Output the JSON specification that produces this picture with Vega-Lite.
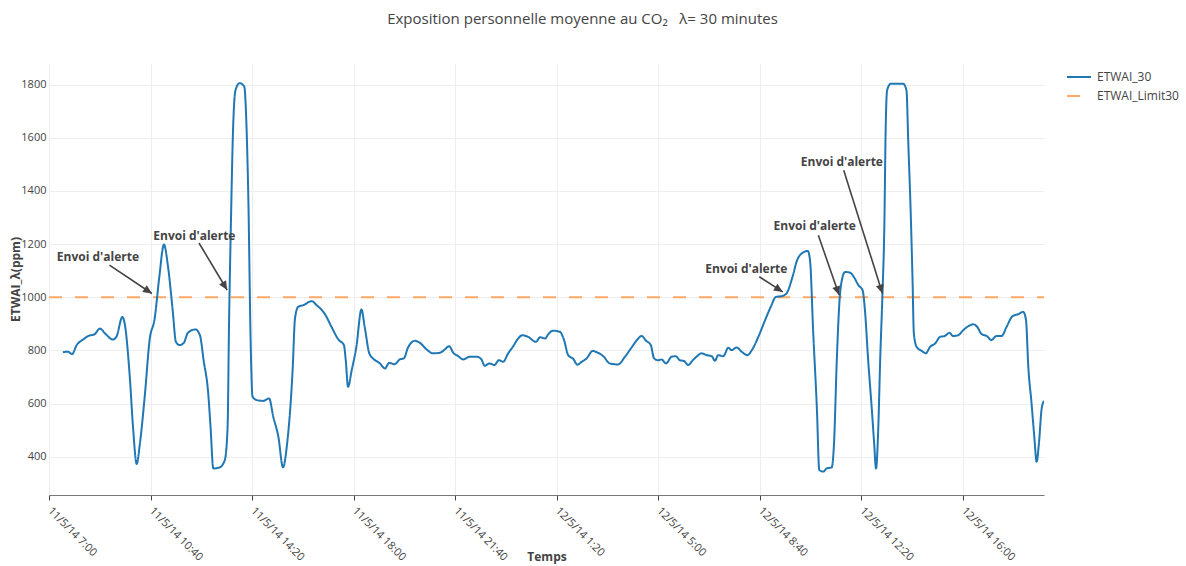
{
  "$schema": "https://vega.github.io/schema/vega-lite/v6.json",
  "autosize": {"type": "none"},
  "width": 995,
  "height": 432,
  "padding": {"left": 49, "top": 63, "right": 142, "bottom": 71},
  "background": "white",
  "title": {
    "text": "Exposition personnelle moyenne au CO₂\u00a0\u00a0\u00a0λ= 30 minutes",
    "font": "Open Sans",
    "fontSize": 15,
    "fontWeight": "normal",
    "color": "#444",
    "anchor": "middle",
    "dx": 36,
    "baseline": "alphabetic",
    "offset": 24
  },
  "config": {
    "view": {"stroke": null},
    "font": "Open Sans",
    "axis": {"labelFont": "Open Sans", "titleFont": "Open Sans", "gridColor": "#eeeeee", "gridWidth": 1}
  },
  "layer": [
    {
      "data": {
        "values": [
          {"t": "2014-05-11 07:00", "v": 1000, "s": "ETWAI_Limit30"},
          {"t": "2014-05-12 18:56", "v": 1000, "s": "ETWAI_Limit30"},
          {"t": "2014-05-11 07:30", "v": 793, "s": "ETWAI_30"},
          {"t": "2014-05-11 07:41", "v": 795, "s": "ETWAI_30"},
          {"t": "2014-05-11 07:50", "v": 786, "s": "ETWAI_30"},
          {"t": "2014-05-11 08:00", "v": 820, "s": "ETWAI_30"},
          {"t": "2014-05-11 08:14", "v": 841, "s": "ETWAI_30"},
          {"t": "2014-05-11 08:25", "v": 854, "s": "ETWAI_30"},
          {"t": "2014-05-11 08:39", "v": 861, "s": "ETWAI_30"},
          {"t": "2014-05-11 08:50", "v": 882, "s": "ETWAI_30"},
          {"t": "2014-05-11 09:03", "v": 861, "s": "ETWAI_30"},
          {"t": "2014-05-11 09:18", "v": 841, "s": "ETWAI_30"},
          {"t": "2014-05-11 09:26", "v": 851, "s": "ETWAI_30"},
          {"t": "2014-05-11 09:39", "v": 926, "s": "ETWAI_30"},
          {"t": "2014-05-11 09:44", "v": 901, "s": "ETWAI_30"},
          {"t": "2014-05-11 09:55", "v": 701, "s": "ETWAI_30"},
          {"t": "2014-05-11 10:02", "v": 513, "s": "ETWAI_30"},
          {"t": "2014-05-11 10:10", "v": 373, "s": "ETWAI_30"},
          {"t": "2014-05-11 10:17", "v": 450, "s": "ETWAI_30"},
          {"t": "2014-05-11 10:28", "v": 638, "s": "ETWAI_30"},
          {"t": "2014-05-11 10:38", "v": 839, "s": "ETWAI_30"},
          {"t": "2014-05-11 10:49", "v": 920, "s": "ETWAI_30"},
          {"t": "2014-05-11 10:59", "v": 1076, "s": "ETWAI_30"},
          {"t": "2014-05-11 11:09", "v": 1198, "s": "ETWAI_30"},
          {"t": "2014-05-11 11:18", "v": 1114, "s": "ETWAI_30"},
          {"t": "2014-05-11 11:28", "v": 951, "s": "ETWAI_30"},
          {"t": "2014-05-11 11:35", "v": 832, "s": "ETWAI_30"},
          {"t": "2014-05-11 11:43", "v": 820, "s": "ETWAI_30"},
          {"t": "2014-05-11 11:52", "v": 828, "s": "ETWAI_30"},
          {"t": "2014-05-11 12:01", "v": 866, "s": "ETWAI_30"},
          {"t": "2014-05-11 12:17", "v": 879, "s": "ETWAI_30"},
          {"t": "2014-05-11 12:27", "v": 857, "s": "ETWAI_30"},
          {"t": "2014-05-11 12:35", "v": 763, "s": "ETWAI_30"},
          {"t": "2014-05-11 12:45", "v": 638, "s": "ETWAI_30"},
          {"t": "2014-05-11 12:50", "v": 513, "s": "ETWAI_30"},
          {"t": "2014-05-11 12:56", "v": 356, "s": "ETWAI_30"},
          {"t": "2014-05-11 13:10", "v": 360, "s": "ETWAI_30"},
          {"t": "2014-05-11 13:21", "v": 388, "s": "ETWAI_30"},
          {"t": "2014-05-11 13:27", "v": 513, "s": "ETWAI_30"},
          {"t": "2014-05-11 13:30", "v": 889, "s": "ETWAI_30"},
          {"t": "2014-05-11 13:34", "v": 1264, "s": "ETWAI_30"},
          {"t": "2014-05-11 13:39", "v": 1640, "s": "ETWAI_30"},
          {"t": "2014-05-11 13:44", "v": 1778, "s": "ETWAI_30"},
          {"t": "2014-05-11 13:53", "v": 1805, "s": "ETWAI_30"},
          {"t": "2014-05-11 14:03", "v": 1793, "s": "ETWAI_30"},
          {"t": "2014-05-11 14:08", "v": 1640, "s": "ETWAI_30"},
          {"t": "2014-05-11 14:12", "v": 1365, "s": "ETWAI_30"},
          {"t": "2014-05-11 14:17", "v": 826, "s": "ETWAI_30"},
          {"t": "2014-05-11 14:21", "v": 626, "s": "ETWAI_30"},
          {"t": "2014-05-11 14:30", "v": 613, "s": "ETWAI_30"},
          {"t": "2014-05-11 14:44", "v": 610, "s": "ETWAI_30"},
          {"t": "2014-05-11 14:57", "v": 619, "s": "ETWAI_30"},
          {"t": "2014-05-11 15:06", "v": 550, "s": "ETWAI_30"},
          {"t": "2014-05-11 15:17", "v": 475, "s": "ETWAI_30"},
          {"t": "2014-05-11 15:27", "v": 360, "s": "ETWAI_30"},
          {"t": "2014-05-11 15:36", "v": 450, "s": "ETWAI_30"},
          {"t": "2014-05-11 15:48", "v": 730, "s": "ETWAI_30"},
          {"t": "2014-05-11 15:53", "v": 920, "s": "ETWAI_30"},
          {"t": "2014-05-11 16:00", "v": 964, "s": "ETWAI_30"},
          {"t": "2014-05-11 16:11", "v": 970, "s": "ETWAI_30"},
          {"t": "2014-05-11 16:29", "v": 985, "s": "ETWAI_30"},
          {"t": "2014-05-11 16:40", "v": 970, "s": "ETWAI_30"},
          {"t": "2014-05-11 16:58", "v": 936, "s": "ETWAI_30"},
          {"t": "2014-05-11 17:12", "v": 889, "s": "ETWAI_30"},
          {"t": "2014-05-11 17:27", "v": 841, "s": "ETWAI_30"},
          {"t": "2014-05-11 17:39", "v": 820, "s": "ETWAI_30"},
          {"t": "2014-05-11 17:43", "v": 763, "s": "ETWAI_30"},
          {"t": "2014-05-11 17:48", "v": 663, "s": "ETWAI_30"},
          {"t": "2014-05-11 17:56", "v": 726, "s": "ETWAI_30"},
          {"t": "2014-05-11 18:06", "v": 813, "s": "ETWAI_30"},
          {"t": "2014-05-11 18:17", "v": 954, "s": "ETWAI_30"},
          {"t": "2014-05-11 18:24", "v": 889, "s": "ETWAI_30"},
          {"t": "2014-05-11 18:34", "v": 789, "s": "ETWAI_30"},
          {"t": "2014-05-11 18:42", "v": 770, "s": "ETWAI_30"},
          {"t": "2014-05-11 18:57", "v": 751, "s": "ETWAI_30"},
          {"t": "2014-05-11 19:08", "v": 732, "s": "ETWAI_30"},
          {"t": "2014-05-11 19:17", "v": 753, "s": "ETWAI_30"},
          {"t": "2014-05-11 19:29", "v": 748, "s": "ETWAI_30"},
          {"t": "2014-05-11 19:40", "v": 766, "s": "ETWAI_30"},
          {"t": "2014-05-11 19:49", "v": 770, "s": "ETWAI_30"},
          {"t": "2014-05-11 19:58", "v": 811, "s": "ETWAI_30"},
          {"t": "2014-05-11 20:13", "v": 836, "s": "ETWAI_30"},
          {"t": "2014-05-11 20:24", "v": 828, "s": "ETWAI_30"},
          {"t": "2014-05-11 20:38", "v": 804, "s": "ETWAI_30"},
          {"t": "2014-05-11 20:52", "v": 789, "s": "ETWAI_30"},
          {"t": "2014-05-11 21:07", "v": 791, "s": "ETWAI_30"},
          {"t": "2014-05-11 21:18", "v": 804, "s": "ETWAI_30"},
          {"t": "2014-05-11 21:27", "v": 816, "s": "ETWAI_30"},
          {"t": "2014-05-11 21:36", "v": 791, "s": "ETWAI_30"},
          {"t": "2014-05-11 21:47", "v": 778, "s": "ETWAI_30"},
          {"t": "2014-05-11 21:57", "v": 766, "s": "ETWAI_30"},
          {"t": "2014-05-11 22:12", "v": 776, "s": "ETWAI_30"},
          {"t": "2014-05-11 22:27", "v": 776, "s": "ETWAI_30"},
          {"t": "2014-05-11 22:37", "v": 766, "s": "ETWAI_30"},
          {"t": "2014-05-11 22:44", "v": 742, "s": "ETWAI_30"},
          {"t": "2014-05-11 22:54", "v": 751, "s": "ETWAI_30"},
          {"t": "2014-05-11 23:05", "v": 745, "s": "ETWAI_30"},
          {"t": "2014-05-11 23:15", "v": 763, "s": "ETWAI_30"},
          {"t": "2014-05-11 23:24", "v": 757, "s": "ETWAI_30"},
          {"t": "2014-05-11 23:35", "v": 789, "s": "ETWAI_30"},
          {"t": "2014-05-11 23:46", "v": 816, "s": "ETWAI_30"},
          {"t": "2014-05-11 23:55", "v": 841, "s": "ETWAI_30"},
          {"t": "2014-05-12 00:06", "v": 857, "s": "ETWAI_30"},
          {"t": "2014-05-12 00:18", "v": 851, "s": "ETWAI_30"},
          {"t": "2014-05-12 00:35", "v": 832, "s": "ETWAI_30"},
          {"t": "2014-05-12 00:44", "v": 849, "s": "ETWAI_30"},
          {"t": "2014-05-12 00:55", "v": 845, "s": "ETWAI_30"},
          {"t": "2014-05-12 01:02", "v": 861, "s": "ETWAI_30"},
          {"t": "2014-05-12 01:12", "v": 874, "s": "ETWAI_30"},
          {"t": "2014-05-12 01:27", "v": 870, "s": "ETWAI_30"},
          {"t": "2014-05-12 01:36", "v": 839, "s": "ETWAI_30"},
          {"t": "2014-05-12 01:45", "v": 782, "s": "ETWAI_30"},
          {"t": "2014-05-12 01:56", "v": 768, "s": "ETWAI_30"},
          {"t": "2014-05-12 02:05", "v": 746, "s": "ETWAI_30"},
          {"t": "2014-05-12 02:14", "v": 757, "s": "ETWAI_30"},
          {"t": "2014-05-12 02:25", "v": 770, "s": "ETWAI_30"},
          {"t": "2014-05-12 02:38", "v": 798, "s": "ETWAI_30"},
          {"t": "2014-05-12 02:47", "v": 793, "s": "ETWAI_30"},
          {"t": "2014-05-12 03:01", "v": 778, "s": "ETWAI_30"},
          {"t": "2014-05-12 03:15", "v": 751, "s": "ETWAI_30"},
          {"t": "2014-05-12 03:33", "v": 747, "s": "ETWAI_30"},
          {"t": "2014-05-12 03:48", "v": 776, "s": "ETWAI_30"},
          {"t": "2014-05-12 04:02", "v": 810, "s": "ETWAI_30"},
          {"t": "2014-05-12 04:15", "v": 841, "s": "ETWAI_30"},
          {"t": "2014-05-12 04:24", "v": 854, "s": "ETWAI_30"},
          {"t": "2014-05-12 04:34", "v": 836, "s": "ETWAI_30"},
          {"t": "2014-05-12 04:44", "v": 820, "s": "ETWAI_30"},
          {"t": "2014-05-12 04:51", "v": 770, "s": "ETWAI_30"},
          {"t": "2014-05-12 05:00", "v": 763, "s": "ETWAI_30"},
          {"t": "2014-05-12 05:07", "v": 766, "s": "ETWAI_30"},
          {"t": "2014-05-12 05:17", "v": 751, "s": "ETWAI_30"},
          {"t": "2014-05-12 05:29", "v": 776, "s": "ETWAI_30"},
          {"t": "2014-05-12 05:38", "v": 778, "s": "ETWAI_30"},
          {"t": "2014-05-12 05:47", "v": 763, "s": "ETWAI_30"},
          {"t": "2014-05-12 05:56", "v": 760, "s": "ETWAI_30"},
          {"t": "2014-05-12 06:05", "v": 745, "s": "ETWAI_30"},
          {"t": "2014-05-12 06:15", "v": 763, "s": "ETWAI_30"},
          {"t": "2014-05-12 06:23", "v": 776, "s": "ETWAI_30"},
          {"t": "2014-05-12 06:34", "v": 789, "s": "ETWAI_30"},
          {"t": "2014-05-12 06:45", "v": 782, "s": "ETWAI_30"},
          {"t": "2014-05-12 06:56", "v": 778, "s": "ETWAI_30"},
          {"t": "2014-05-12 07:03", "v": 761, "s": "ETWAI_30"},
          {"t": "2014-05-12 07:10", "v": 782, "s": "ETWAI_30"},
          {"t": "2014-05-12 07:21", "v": 778, "s": "ETWAI_30"},
          {"t": "2014-05-12 07:32", "v": 810, "s": "ETWAI_30"},
          {"t": "2014-05-12 07:39", "v": 801, "s": "ETWAI_30"},
          {"t": "2014-05-12 07:50", "v": 811, "s": "ETWAI_30"},
          {"t": "2014-05-12 08:01", "v": 795, "s": "ETWAI_30"},
          {"t": "2014-05-12 08:13", "v": 782, "s": "ETWAI_30"},
          {"t": "2014-05-12 08:23", "v": 801, "s": "ETWAI_30"},
          {"t": "2014-05-12 08:37", "v": 851, "s": "ETWAI_30"},
          {"t": "2014-05-12 08:51", "v": 911, "s": "ETWAI_30"},
          {"t": "2014-05-12 09:04", "v": 964, "s": "ETWAI_30"},
          {"t": "2014-05-12 09:15", "v": 1001, "s": "ETWAI_30"},
          {"t": "2014-05-12 09:28", "v": 1004, "s": "ETWAI_30"},
          {"t": "2014-05-12 09:38", "v": 1014, "s": "ETWAI_30"},
          {"t": "2014-05-12 09:51", "v": 1076, "s": "ETWAI_30"},
          {"t": "2014-05-12 10:01", "v": 1139, "s": "ETWAI_30"},
          {"t": "2014-05-12 10:13", "v": 1167, "s": "ETWAI_30"},
          {"t": "2014-05-12 10:24", "v": 1174, "s": "ETWAI_30"},
          {"t": "2014-05-12 10:29", "v": 1139, "s": "ETWAI_30"},
          {"t": "2014-05-12 10:36", "v": 864, "s": "ETWAI_30"},
          {"t": "2014-05-12 10:44", "v": 576, "s": "ETWAI_30"},
          {"t": "2014-05-12 10:49", "v": 350, "s": "ETWAI_30"},
          {"t": "2014-05-12 10:58", "v": 344, "s": "ETWAI_30"},
          {"t": "2014-05-12 11:05", "v": 356, "s": "ETWAI_30"},
          {"t": "2014-05-12 11:16", "v": 360, "s": "ETWAI_30"},
          {"t": "2014-05-12 11:21", "v": 450, "s": "ETWAI_30"},
          {"t": "2014-05-12 11:27", "v": 763, "s": "ETWAI_30"},
          {"t": "2014-05-12 11:33", "v": 989, "s": "ETWAI_30"},
          {"t": "2014-05-12 11:38", "v": 1064, "s": "ETWAI_30"},
          {"t": "2014-05-12 11:45", "v": 1095, "s": "ETWAI_30"},
          {"t": "2014-05-12 11:56", "v": 1092, "s": "ETWAI_30"},
          {"t": "2014-05-12 12:04", "v": 1076, "s": "ETWAI_30"},
          {"t": "2014-05-12 12:14", "v": 1045, "s": "ETWAI_30"},
          {"t": "2014-05-12 12:23", "v": 1026, "s": "ETWAI_30"},
          {"t": "2014-05-12 12:28", "v": 951, "s": "ETWAI_30"},
          {"t": "2014-05-12 12:35", "v": 763, "s": "ETWAI_30"},
          {"t": "2014-05-12 12:43", "v": 576, "s": "ETWAI_30"},
          {"t": "2014-05-12 12:48", "v": 450, "s": "ETWAI_30"},
          {"t": "2014-05-12 12:52", "v": 356, "s": "ETWAI_30"},
          {"t": "2014-05-12 12:57", "v": 513, "s": "ETWAI_30"},
          {"t": "2014-05-12 13:01", "v": 763, "s": "ETWAI_30"},
          {"t": "2014-05-12 13:06", "v": 1014, "s": "ETWAI_30"},
          {"t": "2014-05-12 13:10", "v": 1264, "s": "ETWAI_30"},
          {"t": "2014-05-12 13:13", "v": 1640, "s": "ETWAI_30"},
          {"t": "2014-05-12 13:16", "v": 1778, "s": "ETWAI_30"},
          {"t": "2014-05-12 13:24", "v": 1803, "s": "ETWAI_30"},
          {"t": "2014-05-12 13:37", "v": 1803, "s": "ETWAI_30"},
          {"t": "2014-05-12 13:51", "v": 1803, "s": "ETWAI_30"},
          {"t": "2014-05-12 13:58", "v": 1778, "s": "ETWAI_30"},
          {"t": "2014-05-12 14:02", "v": 1578, "s": "ETWAI_30"},
          {"t": "2014-05-12 14:07", "v": 1327, "s": "ETWAI_30"},
          {"t": "2014-05-12 14:11", "v": 1076, "s": "ETWAI_30"},
          {"t": "2014-05-12 14:14", "v": 864, "s": "ETWAI_30"},
          {"t": "2014-05-12 14:20", "v": 813, "s": "ETWAI_30"},
          {"t": "2014-05-12 14:31", "v": 798, "s": "ETWAI_30"},
          {"t": "2014-05-12 14:40", "v": 789, "s": "ETWAI_30"},
          {"t": "2014-05-12 14:49", "v": 813, "s": "ETWAI_30"},
          {"t": "2014-05-12 15:00", "v": 826, "s": "ETWAI_30"},
          {"t": "2014-05-12 15:11", "v": 851, "s": "ETWAI_30"},
          {"t": "2014-05-12 15:21", "v": 854, "s": "ETWAI_30"},
          {"t": "2014-05-12 15:31", "v": 866, "s": "ETWAI_30"},
          {"t": "2014-05-12 15:39", "v": 854, "s": "ETWAI_30"},
          {"t": "2014-05-12 15:50", "v": 857, "s": "ETWAI_30"},
          {"t": "2014-05-12 16:01", "v": 876, "s": "ETWAI_30"},
          {"t": "2014-05-12 16:12", "v": 891, "s": "ETWAI_30"},
          {"t": "2014-05-12 16:23", "v": 898, "s": "ETWAI_30"},
          {"t": "2014-05-12 16:31", "v": 889, "s": "ETWAI_30"},
          {"t": "2014-05-12 16:41", "v": 861, "s": "ETWAI_30"},
          {"t": "2014-05-12 16:52", "v": 854, "s": "ETWAI_30"},
          {"t": "2014-05-12 17:02", "v": 839, "s": "ETWAI_30"},
          {"t": "2014-05-12 17:13", "v": 854, "s": "ETWAI_30"},
          {"t": "2014-05-12 17:24", "v": 854, "s": "ETWAI_30"},
          {"t": "2014-05-12 17:35", "v": 889, "s": "ETWAI_30"},
          {"t": "2014-05-12 17:48", "v": 929, "s": "ETWAI_30"},
          {"t": "2014-05-12 18:00", "v": 936, "s": "ETWAI_30"},
          {"t": "2014-05-12 18:11", "v": 945, "s": "ETWAI_30"},
          {"t": "2014-05-12 18:17", "v": 914, "s": "ETWAI_30"},
          {"t": "2014-05-12 18:22", "v": 738, "s": "ETWAI_30"},
          {"t": "2014-05-12 18:29", "v": 601, "s": "ETWAI_30"},
          {"t": "2014-05-12 18:35", "v": 475, "s": "ETWAI_30"},
          {"t": "2014-05-12 18:40", "v": 381, "s": "ETWAI_30"},
          {"t": "2014-05-12 18:45", "v": 450, "s": "ETWAI_30"},
          {"t": "2014-05-12 18:51", "v": 582, "s": "ETWAI_30"},
          {"t": "2014-05-12 18:56", "v": 610, "s": "ETWAI_30"}
        ],
        "format": {"parse": {"t": "date:'%Y-%m-%d %H:%M'"}}
      },
      "mark": {"type": "line", "interpolate": "monotone", "strokeWidth": 2, "clip": true},
      "encoding": {
        "x": {
          "field": "t",
          "type": "temporal",
          "title": "Temps",
          "scale": {
            "domain": [
              {"year": 2014, "month": 5, "date": 11, "hours": 7, "minutes": 0},
              {"year": 2014, "month": 5, "date": 12, "hours": 18, "minutes": 56}
            ],
            "nice": false
          },
          "axis": {
            "values": [
              {"year": 2014, "month": 5, "date": 11, "hours": 7, "minutes": 0},
              {"year": 2014, "month": 5, "date": 11, "hours": 10, "minutes": 40},
              {"year": 2014, "month": 5, "date": 11, "hours": 14, "minutes": 20},
              {"year": 2014, "month": 5, "date": 11, "hours": 18, "minutes": 0},
              {"year": 2014, "month": 5, "date": 11, "hours": 21, "minutes": 40},
              {"year": 2014, "month": 5, "date": 12, "hours": 1, "minutes": 20},
              {"year": 2014, "month": 5, "date": 12, "hours": 5, "minutes": 0},
              {"year": 2014, "month": 5, "date": 12, "hours": 8, "minutes": 40},
              {"year": 2014, "month": 5, "date": 12, "hours": 12, "minutes": 20},
              {"year": 2014, "month": 5, "date": 12, "hours": 16, "minutes": 0}
            ],
            "format": "%-d/%-m/%y %-H:%M",
            "labelAngle": 45,
            "labelAlign": "left",
            "labelBaseline": "middle",
            "labelFontSize": 11,
            "labelColor": "#444",
            "labelPadding": 9,
            "labelOverlap": false,
            "tickColor": "#444",
            "tickSize": 5,
            "domainColor": "#777",
            "grid": true,
            "title": "Temps",
            "titleFontSize": 12,
            "titleFontWeight": "bold",
            "titleColor": "#444",
            "titleY": 61,
            "titleBaseline": "middle"
          }
        },
        "y": {
          "field": "v",
          "type": "quantitative",
          "title": "ETWAI_λ(ppm)",
          "scale": {"domain": [256, 1881], "nice": false, "zero": false},
          "axis": {
            "values": [400, 600, 800, 1000, 1200, 1400, 1600, 1800],
            "format": "d",
            "domain": false,
            "ticks": false,
            "grid": true,
            "labelFontSize": 11,
            "labelColor": "#444",
            "labelPadding": 3,
            "title": "ETWAI_λ(ppm)",
            "titleFontSize": 12,
            "titleFontWeight": "bold",
            "titleColor": "#444",
            "titlePadding": -2
          }
        },
        "color": {
          "field": "s",
          "type": "nominal",
          "scale": {"domain": ["ETWAI_30", "ETWAI_Limit30"], "range": ["#1f77b4", "#ffa866"]},
          "legend": {
            "title": null,
            "orient": "none",
            "legendX": 1017,
            "legendY": 1,
            "symbolType": "stroke",
            "symbolSize": 576,
            "symbolStrokeWidth": 2,
            "labelFont": "Open Sans",
            "labelFontSize": 12,
            "labelColor": "#444",
            "labelOffset": 5,
            "rowPadding": -6,
            "padding": 0
          }
        },
        "strokeDash": {
          "field": "s",
          "type": "nominal",
          "scale": {"domain": ["ETWAI_30", "ETWAI_Limit30"], "range": [[1, 0], [13, 13]]},
          "legend": {
            "title": null,
            "orient": "none",
            "legendX": 1017,
            "legendY": 1,
            "symbolType": "stroke",
            "symbolSize": 576,
            "symbolStrokeWidth": 2,
            "labelFont": "Open Sans",
            "labelFontSize": 12,
            "labelColor": "#444",
            "labelOffset": 5,
            "rowPadding": -6,
            "padding": 0
          }
        }
      }
    },
    {
      "data": {
        "values": [
          {"t": "2014-05-11 09:11", "v": 1121, "t2": "2014-05-11 10:43", "v2": 1014},
          {"t": "2014-05-11 12:25", "v": 1204, "t2": "2014-05-11 13:26", "v2": 1027},
          {"t": "2014-05-12 08:39", "v": 1077, "t2": "2014-05-12 09:30", "v2": 1020},
          {"t": "2014-05-12 10:47", "v": 1233, "t2": "2014-05-12 11:32", "v2": 1008},
          {"t": "2014-05-12 11:42", "v": 1478, "t2": "2014-05-12 13:06", "v2": 1014}
        ],
        "format": {"parse": {"t": "date:'%Y-%m-%d %H:%M'", "t2": "date:'%Y-%m-%d %H:%M'"}}
      },
      "layer": [
        {
          "mark": {"type": "rule", "color": "#444", "strokeWidth": 1.6},
          "encoding": {
            "x": {"field": "t", "type": "temporal", "title": "Temps"},
            "y": {"field": "v", "type": "quantitative", "title": "ETWAI_λ(ppm)"},
            "x2": {"field": "t2"},
            "y2": {"field": "v2"}
          }
        },
        {
          "transform": [
            {"calculate": "atan2((time(datum.t2) - time(datum.t)) / 60000 * 0.4614, (datum.v2 - datum.v) * 0.2661) * 180 / PI", "as": "ang"}
          ],
          "mark": {"type": "point", "shape": "M0,0L-0.5,1.1L0.5,1.1Z", "filled": true, "color": "#444", "opacity": 1, "size": 260},
          "encoding": {
            "x": {"field": "t2", "type": "temporal", "title": "Temps"},
            "y": {"field": "v2", "type": "quantitative", "title": "ETWAI_λ(ppm)"},
            "angle": {"field": "ang", "type": "quantitative", "scale": null}
          }
        }
      ]
    },
    {
      "data": {
        "values": [
          {"t": "2014-05-11 08:46", "v": 1151, "label": "Envoi d'alerte"},
          {"t": "2014-05-11 12:15", "v": 1231, "label": "Envoi d'alerte"},
          {"t": "2014-05-12 08:11", "v": 1106, "label": "Envoi d'alerte"},
          {"t": "2014-05-12 10:39", "v": 1268, "label": "Envoi d'alerte"},
          {"t": "2014-05-12 11:38", "v": 1509, "label": "Envoi d'alerte"}
        ],
        "format": {"parse": {"t": "date:'%Y-%m-%d %H:%M'"}}
      },
      "mark": {"type": "text", "font": "Open Sans", "fontWeight": "bold", "fontSize": 12, "color": "#444", "align": "center", "baseline": "middle"},
      "encoding": {
        "x": {"field": "t", "type": "temporal", "title": "Temps"},
        "y": {"field": "v", "type": "quantitative", "title": "ETWAI_λ(ppm)"},
        "text": {"field": "label"}
      }
    }
  ]
}
